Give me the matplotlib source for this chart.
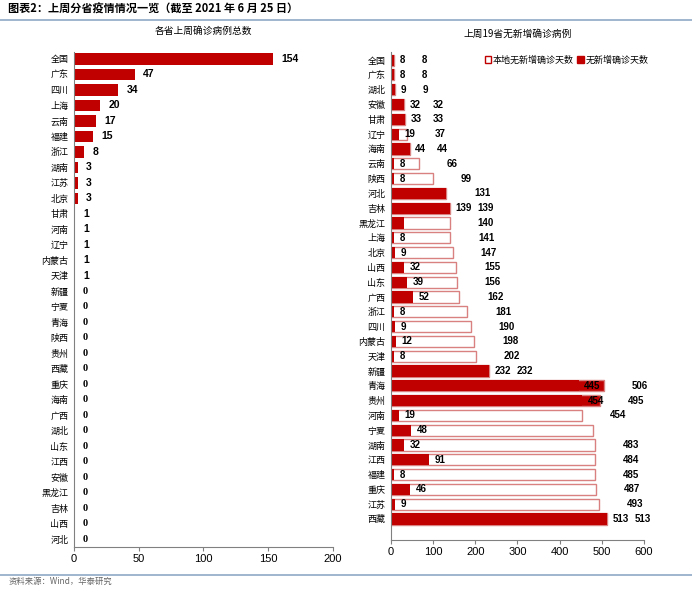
import matplotlib
matplotlib.use("Agg")
import matplotlib.pyplot as plt
from matplotlib.patches import Patch
from matplotlib.lines import Line2D

plt.rcParams['font.family'] = ['Noto Sans CJK SC', 'DejaVu Sans']

# Données : total des cas confirmés de la semaine par province
cats_l = ["全国", "广东", "四川", "上海", "云南", "福建", "浙江", "湖南", "江苏", "北京",
          "甘肃", "河南", "辽宁", "内蒙古", "天津", "新疆", "宁夏", "青海", "陕西", "贵州",
          "西藏", "重庆", "海南", "广西", "湖北", "山东", "江西", "安徽", "黑龙江", "吉林",
          "山西", "河北"]
cases = [154, 47, 34, 20, 17, 15, 8, 3, 3, 3, 1, 1, 1, 1, 1, 0,
         0, 0, 0, 0, 0, 0, 0, 0, 0, 0, 0, 0, 0, 0, 0, 0]

# Données : jours sans nouveau cas (19 provinces)
cats_r = ["全国", "广东", "湖北", "安徽", "甘肃", "辽宁", "海南", "云南", "陕西", "河北",
          "吉林", "黑龙江", "上海", "北京", "山西", "山东", "广西", "浙江", "四川", "内蒙古",
          "天津", "新疆", "青海", "贵州", "河南", "宁夏", "湖南", "江西", "福建", "重庆",
          "江苏", "西藏"]
local_days = [8, 8, 9, 32, 33, 37, 44, 66, 99, 131, 139, 140, 141, 147, 155, 156,
              162, 181, 190, 198, 202, 232, 506, 495, 454, 480, 483, 484, 485, 487,
              493, 513]
no_new_days = [8, 8, 9, 32, 33, 19, 44, 8, 8, 131, 139, 32, 8, 9, 32, 39,
               52, 8, 9, 12, 8, 232, 445, 454, 19, 48, 32, 91, 8, 46, 9, 513]

# étiquettes absentes dans l'original
hide_filled = ["河北", "黑龙江"]
hide_outline = ["宁夏"]
solid_rows = ["青海", "贵州"]

RED = "#C00000"
EDGE = "#D98080"
GRAY = "#808080"
LINE = "#8FA8C6"

fig = plt.figure(figsize=(6.92, 5.91), dpi=100)

fig.text(0.012, 0.995, "图表2：上周分省疫情情况一览（截至 2021 年 6 月 25 日）",
         fontsize=8, fontweight="bold", va="top", ha="left")
fig.add_artist(Line2D([0, 1], [0.966, 0.966], color=LINE, lw=1.2))
fig.add_artist(Line2D([0, 1], [0.027, 0.027], color=LINE, lw=1.2))
fig.text(0.012, 0.008, "资料来源：Wind，华泰研究", fontsize=6, color="#666666",
         va="bottom", ha="left")

# graphique de gauche
ax1 = fig.add_axes([0.107, 0.0745, 0.374, 0.8376])
y1 = list(range(len(cats_l)))
ax1.barh(y1, cases, height=0.75, color=RED)
ax1.set_ylim(len(cats_l) - 0.5, -0.45)
ax1.set_xlim(0, 200)
ax1.set_xticks([0, 50, 100, 150, 200])
ax1.set_yticks(y1)
ax1.set_yticklabels(cats_l, fontsize=6.5)
for i, v in enumerate(cases):
    fam = "Liberation Serif" if v == 0 else "Liberation Sans"
    ax1.annotate(str(v), (v, i), xytext=(6, 0), textcoords="offset points",
                 va="center", ha="left", fontsize=7.5, fontweight="bold", family=fam)
ax1.set_title("各省上周确诊病例总数", fontsize=7, pad=13)

# graphique de droite
ax2 = fig.add_axes([0.565, 0.0863, 0.3656, 0.8257])
y2 = list(range(len(cats_r)))
faces = [RED if c in solid_rows else "white" for c in cats_r]
ax2.barh(y2, local_days, height=0.75, color=faces, edgecolor=EDGE, linewidth=1)
ax2.barh(y2, no_new_days, height=0.75, color=RED)
ax2.set_ylim(len(cats_r) + 0.42, -0.55)
ax2.set_xlim(0, 600)
ax2.set_xticks(range(0, 601, 100))
ax2.set_yticks(y2)
ax2.set_yticklabels(cats_r, fontsize=6.5)
for i, c in enumerate(cats_r):
    if c not in hide_filled:
        ax2.annotate(str(no_new_days[i]), (no_new_days[i], i), xytext=(4, 0),
                     textcoords="offset points", va="center", ha="left",
                     fontsize=7, fontweight="bold", family="Liberation Sans")
    if c not in hide_outline:
        ax2.annotate(str(local_days[i]), (local_days[i], i), xytext=(20, 0),
                     textcoords="offset points", va="center", ha="left",
                     fontsize=7, fontweight="bold", family="Liberation Sans")
ax2.set_title("上周19省无新增确诊病例", fontsize=7, pad=11)
ax2.legend(handles=[Patch(facecolor="white", edgecolor=RED, label="本地无新增确诊天数"),
                    Patch(facecolor=RED, edgecolor=RED, label="无新增确诊天数")],
           loc="upper right", bbox_to_anchor=(1.05, 1.01), ncol=2, frameon=False,
           fontsize=6.5, handlelength=0.7, handleheight=0.7, handletextpad=0.2,
           columnspacing=0.4)

for ax in (ax1, ax2):
    for s in ("top", "right"):
        ax.spines[s].set_visible(False)
    for s in ("left", "bottom"):
        ax.spines[s].set_color(GRAY)
    ax.tick_params(axis="y", length=0, pad=4)
    ax.tick_params(axis="x", length=3, color=GRAY, labelsize=8, pad=2)
    for lab in ax.get_xticklabels():
        lab.set_family("Liberation Sans")

fig.savefig("out.png", dpi=100)
